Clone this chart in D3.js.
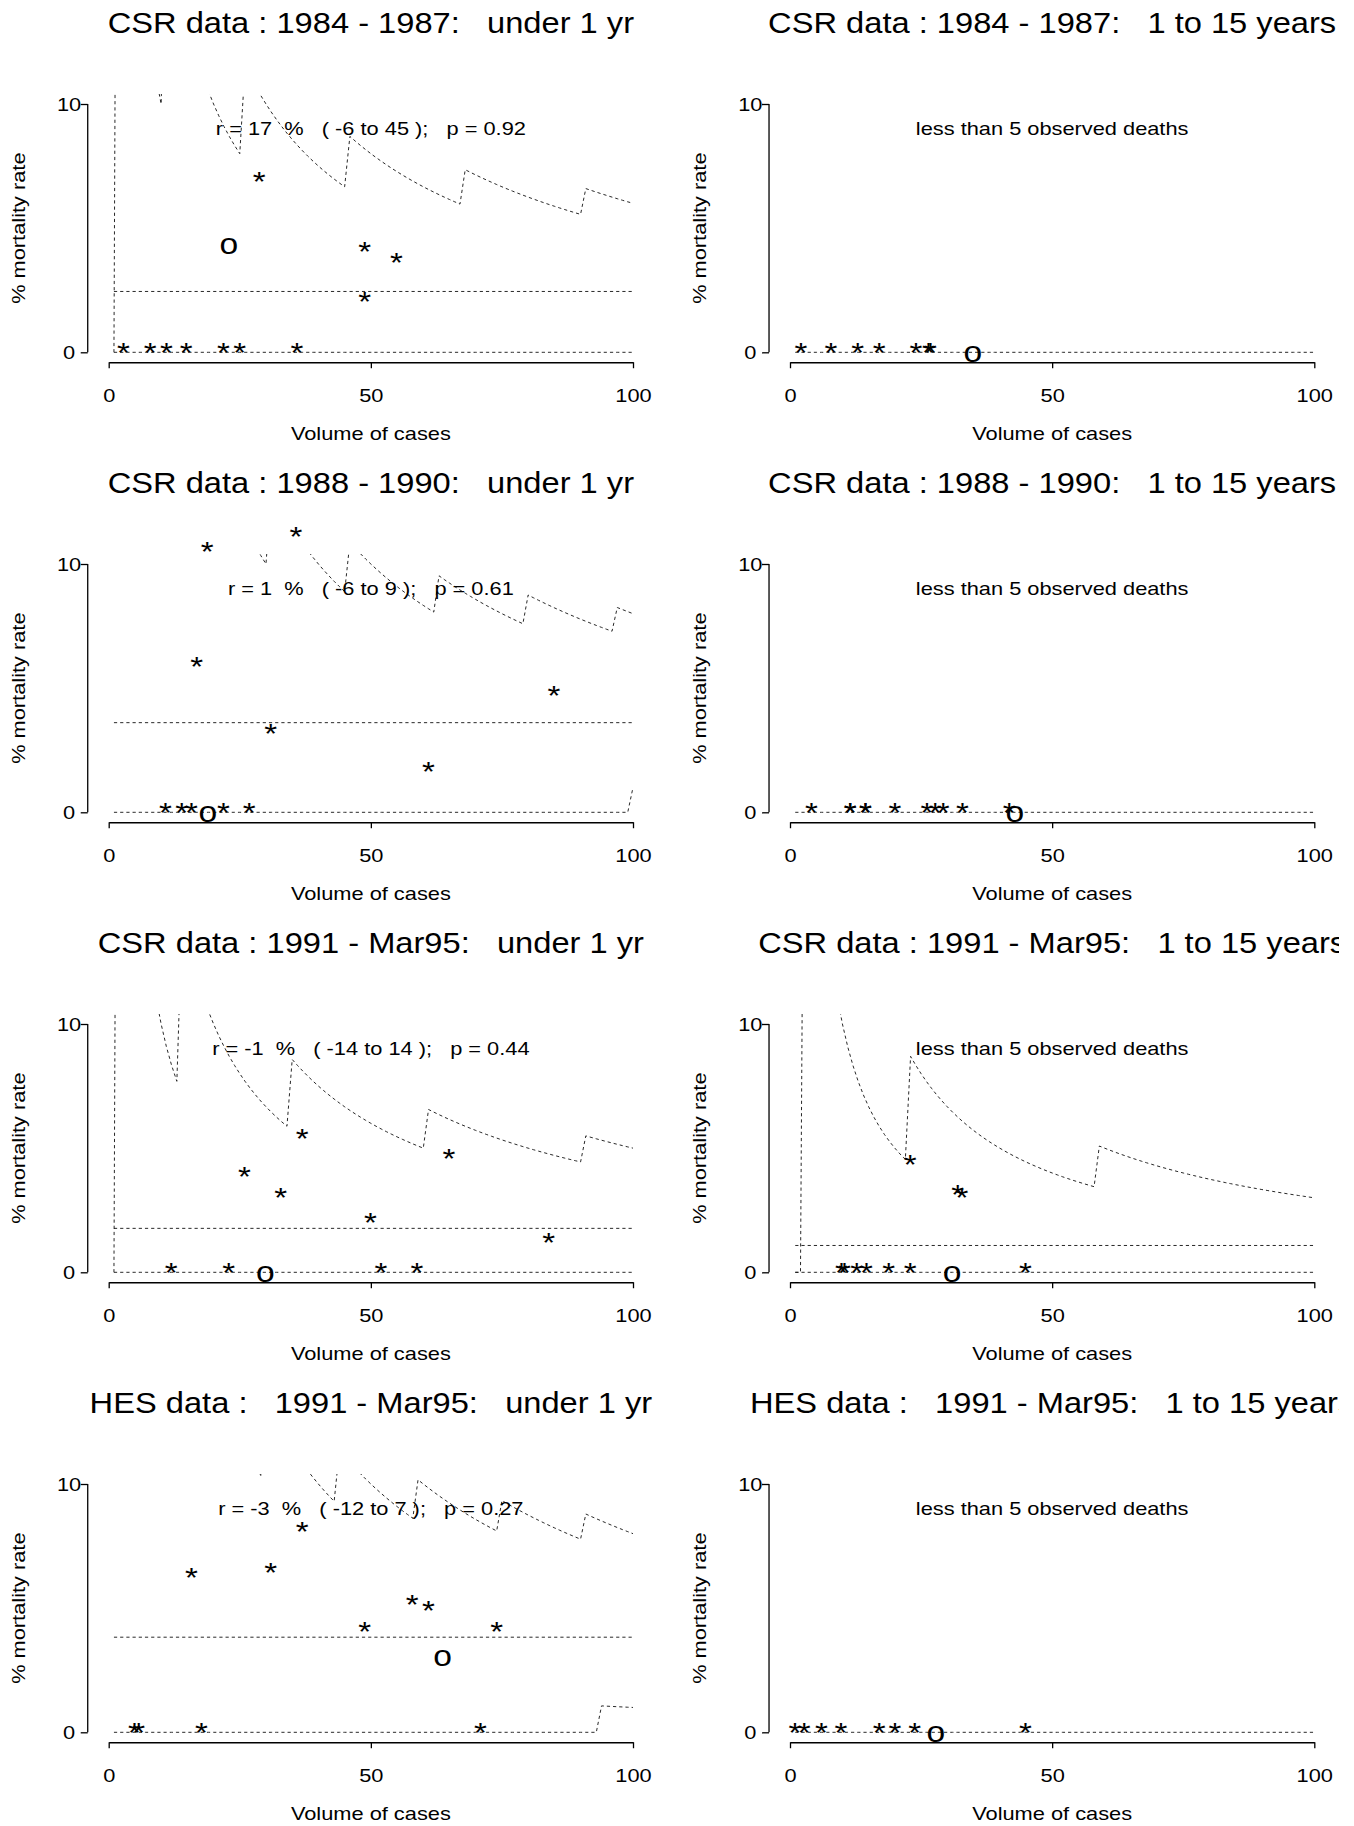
<!DOCTYPE html>
<html><head><meta charset="utf-8">
<script src="https://cdn.jsdelivr.net/npm/d3@7"></script>
<style>
body{margin:0;background:#fff}
svg{display:block}
text{font-family:"Liberation Sans",Arial,Helvetica,sans-serif;fill:#000;white-space:pre}
</style>
</head><body><div id="chart"></div>
<script>
// ---------- titles / annotations ----------
const panelTitles = [
  "CSR data : 1984 - 1987:   under 1 yr",
  "CSR data : 1984 - 1987:   1 to 15 years",
  "CSR data : 1988 - 1990:   under 1 yr",
  "CSR data : 1988 - 1990:   1 to 15 years",
  "CSR data : 1991 - Mar95:   under 1 yr",
  "CSR data : 1991 - Mar95:   1 to 15 years",
  "HES data :   1991 - Mar95:   under 1 yr",
  "HES data :   1991 - Mar95:   1 to 15 years"
];
const panelNotes = [
  "r = 17  %   ( -6 to 45 );   p = 0.92",
  "less than 5 observed deaths",
  "r = 1  %   ( -6 to 9 );   p = 0.61",
  "less than 5 observed deaths",
  "r = -1  %   ( -14 to 14 );   p = 0.44",
  "less than 5 observed deaths",
  "r = -3  %   ( -12 to 7 );   p = 0.27",
  "less than 5 observed deaths"
];
const xTickValues = [0, 50, 100];
const yTickValues = [0, 10];
const xLabel = "Volume of cases";
const yLabel = "% mortality rate";

// ---------- points (volume of cases, % mortality) ----------
const volume_csr8487_u1 = [2.8, 7.9, 11.0, 14.8, 21.9, 25.0, 35.9, 28.7, 48.8, 54.9, 48.8];
const rate_csr8487_u1   = [0, 0, 0, 0, 0, 0, 0, 6.9, 4.08, 3.64, 2.04];
const volume_csr8487_1to15 = [2.1, 7.8, 12.9, 17.0, 24.0, 26.4, 26.8];
const rate_csr8487_1to15   = [0, 0, 0, 0, 0, 0, 0];
const volume_csr8890_u1 = [35.7, 18.8, 16.8, 30.9, 61.0, 84.9, 10.8, 13.9, 15.8, 21.9, 26.8];
const rate_csr8890_u1   = [11.1, 10.5, 5.88, 3.2, 1.64, 4.7, 0, 0, 0, 0, 0];
const volume_csr8890_1to15 = [4.1, 11.5, 11.5, 14.4, 14.4, 20.0, 26.1, 27.7, 29.2, 32.9, 41.8];
const rate_csr8890_1to15   = [0, 0, 0, 0, 0, 0, 0, 0, 0, 0, 0];
const volume_csr9195_u1 = [36.9, 64.9, 25.9, 32.8, 49.9, 83.9, 11.9, 22.9, 51.9, 58.8];
const rate_csr9195_u1   = [5.4, 4.6, 3.85, 3.03, 2.0, 1.19, 0, 0, 0, 0];
const volume_csr9195_1to15 = [22.9, 32.0, 32.8, 9.8, 10.4, 12.7, 14.6, 18.8, 22.9, 44.9];
const rate_csr9195_1to15   = [4.35, 3.13, 3.03, 0, 0, 0, 0, 0, 0, 0];
const volume_hes9195_u1 = [36.9, 15.8, 30.9, 57.9, 61.0, 48.8, 74.0, 4.9, 5.7, 17.7, 70.9];
const rate_hes9195_u1   = [8.1, 6.25, 6.45, 5.17, 4.92, 4.08, 4.05, 0, 0, 0, 0];
const volume_hes9195_1to15 = [0.95, 2.7, 6.0, 9.7, 17.0, 20.0, 23.8, 44.9];
const rate_hes9195_1to15   = [0, 0, 0, 0, 0, 0, 0, 0];

// overall marker "o" per panel
const overallVolume = [22.9, 34.9, 18.9, 42.9, 29.9, 30.9, 63.7, 27.8];
const overallRate   = [4.35, 0, 0, 0, 0, 0, 3.08, 0];

// overall mean rate line (null = none drawn)
const meanRate = [2.45, null, 3.61, null, 1.77, 1.08, 3.83, null];

// control limits: [first volume, limit count of deaths] steps, plotted as % of volume
const upper_csr8487_u1 = [[1,0],[2,1],[11,2],[26,3],[46,4],[68,5],[91,6]];
const upper_csr8890_u1 = [[1,1],[5,2],[12,3],[31,4],[46,5],[63,6],[80,7],[97,8]];
const upper_csr9195_u1 = [[1,0],[2,1],[14,2],[35,3],[61,4],[91,5]];
const upper_csr9195_1to15 = [[1,0],[3,1],[23,2],[59,3]];
const upper_hes9195_u1 = [[1,1],[3,2],[10,3],[30,4],[44,5],[59,6],[75,7],[91,8]];
const lower_zero = [[1,0]];
const lower_csr8890_u1 = [[1,0],[100,1]];
const lower_hes9195_u1 = [[1,0],[94,1]];

const panelVolumes = [volume_csr8487_u1, volume_csr8487_1to15, volume_csr8890_u1, volume_csr8890_1to15,
                      volume_csr9195_u1, volume_csr9195_1to15, volume_hes9195_u1, volume_hes9195_1to15];
const panelRates = [rate_csr8487_u1, rate_csr8487_1to15, rate_csr8890_u1, rate_csr8890_1to15,
                    rate_csr9195_u1, rate_csr9195_1to15, rate_hes9195_u1, rate_hes9195_1to15];
const panelUpper = [upper_csr8487_u1, null, upper_csr8890_u1, null, upper_csr9195_u1, upper_csr9195_1to15, upper_hes9195_u1, null];
const panelLower = [lower_zero, lower_zero, lower_csr8890_u1, lower_zero, lower_zero, lower_zero, lower_hes9195_u1, lower_zero];

// ---------- drawing ----------
const W = 1354, H = 1826;
const SX = 1.16, SX_TITLE = 1.13;   // horizontal glyph stretch of the original lettering
const colOffset = 681.3, rowPitch = 460;

const svg = d3.select("#chart").append("svg").attr("width", W).attr("height", H)
  .attr("viewBox", `0 0 ${W} ${H}`);
svg.append("rect").attr("width", W).attr("height", H).attr("fill", "#fff");
const defs = svg.append("defs");
defs.append("clipPath").attr("id", "deviceClip").append("rect")
  .attr("x", 0).attr("y", 0).attr("width", 1339).attr("height", H);
const root = svg.append("g").attr("clip-path", "url(#deviceClip)");

function label(g, x, y, s, size, anchor, rot, sx) {
  return g.append("text")
    .attr("transform", `translate(${x},${y})${rot ? ` rotate(${rot})` : ""} scale(${sx || SX},1)`)
    .attr("text-anchor", anchor || "middle")
    .attr("font-size", size)
    .attr("xml:space", "preserve")
    .text(s);
}

function stepSeries(steps) {
  const pts = [];
  for (let n = 1; n <= 100; n++) {
    let c = steps[0][1];
    for (const s of steps) if (s[0] <= n) c = s[1];
    pts.push([n, 100 * c / n]);
  }
  return pts;
}

panelTitles.forEach((title, i) => {
  const r = Math.floor(i / 2), c = i % 2;
  const ox = c * colOffset, oy = r * rowPitch;
  const g = root.append("g");
  const x = d3.scaleLinear().domain([0, 100]).range([108.7 + ox, 633 + ox]);
  const y = d3.scaleLinear().domain([0, 10]).range([352.3 + oy, 104 + oy]);

  // clip = plotting region (4% extension of data ranges)
  const cid = "clip" + i;
  defs.append("clipPath").attr("id", cid).append("rect")
    .attr("x", x(-4)).attr("y", y(10.4))
    .attr("width", x(104) - x(-4)).attr("height", y(-0.4) - y(10.4));

  // axes
  const yAx = g.append("g").attr("transform", `translate(${x(-4)},0)`)
    .call(d3.axisLeft(y).tickValues(yTickValues).tickSize(7).tickSizeOuter(0));
  yAx.select(".domain").attr("d", `M-0,${y(0)}V${y(10)}`);
  const xAx = g.append("g").attr("transform", `translate(0,${y(-0.4)})`)
    .call(d3.axisBottom(x).tickValues(xTickValues).tickSize(6).tickSizeOuter(0));
  [yAx, xAx].forEach(a => {
    a.select(".domain").attr("stroke", "#000").attr("stroke-width", 1.3).attr("fill", "none");
    a.selectAll(".tick line").attr("stroke", "#000").attr("stroke-width", 1.3);
    a.selectAll("text").attr("font-size", 18.8).attr("font-family", null).attr("fill", "#000");
  });
  yAx.selectAll(".tick text").attr("x", 0).attr("dy", "0.35em").attr("text-anchor", "middle")
    .attr("transform", `translate(-18.7,0) scale(${SX},1)`);
  xAx.selectAll(".tick text").attr("y", 0).attr("dy", 0).attr("text-anchor", "middle")
    .attr("transform", `translate(0,39.4) scale(${SX},1)`);

  // dashed reference lines
  const line = d3.line().x(d => x(d[0])).y(d => y(d[1]));
  const lg = g.append("g").attr("clip-path", `url(#${cid})`)
    .attr("fill", "none").attr("stroke", "#111").attr("stroke-width", 0.9)
    .attr("stroke-dasharray", "3.2,3");
  if (meanRate[i] !== null) lg.append("path").attr("d", line([[1, meanRate[i]], [100, meanRate[i]]]));
  lg.append("path").attr("d", line(stepSeries(panelLower[i])));
  if (panelUpper[i]) lg.append("path").attr("d", line(stepSeries(panelUpper[i])));

  // points
  const pts = panelVolumes[i].map((v, k) => [v, panelRates[i][k]]);
  pts.forEach(p => label(g, x(p[0]), y(p[1]) + 9.7, "*", 28.5, "middle"));
  label(g, x(overallVolume[i]), y(overallRate[i]) + 9.7, "o", 29, "middle");

  // texts
  label(g, x(50), oy + 33.3, title, 28.9, "middle", 0, SX_TITLE);
  label(g, x(50), y(9) + 6.4, panelNotes[i], 18.8, "middle");
  label(g, x(50), oy + 440, xLabel, 18.8, "middle");
  label(g, 25 + ox, (y(0) + y(10)) / 2, yLabel, 18.8, "middle", -90);
});
</script>
</body></html>
